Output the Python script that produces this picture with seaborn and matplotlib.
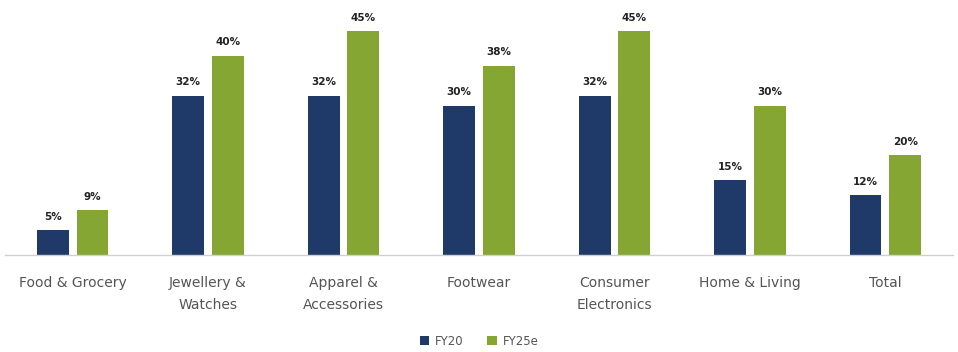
import matplotlib
matplotlib.use("Agg")
import matplotlib.pyplot as plt
import seaborn as sns
import pandas as pd

categories = ["Food & Grocery", "Jewellery &\nWatches", "Apparel &\nAccessories", "Footwear",
              "Consumer\nElectronics", "Home & Living", "Total"]
fy20 = [5, 32, 32, 30, 32, 15, 12]
fy25e = [9, 40, 45, 38, 45, 30, 20]
series_names = ["FY20", "FY25e"]
colors = ["#1f3a68", "#86a634"]

df = pd.DataFrame({
    "category": categories * 2,
    "series": [series_names[0]] * len(categories) + [series_names[1]] * len(categories),
    "value": fy20 + fy25e,
})

sns.set_theme(style="white")
plt.rcParams["font.family"] = ["DejaVu Sans"]

fig = plt.figure(figsize=(9.58, 3.52), dpi=100)
ax = fig.add_axes([0.005, 0.276, 0.99, 0.724])

sns.barplot(data=df, x="category", y="value", hue="series", palette=colors,
            width=0.586, gap=0.2, ax=ax, legend=True, saturation=1, linewidth=0)

for container in ax.containers:
    ax.bar_label(container, labels=[f"{v:.0f}%" for v in container.datavalues],
                 padding=6, fontsize=7.5, fontweight="bold", color="#222222")

ax.set_ylim(0, 51.2)
ax.set_xlim(-0.5, len(categories) - 0.5)
ax.set_xlabel("")
ax.set_ylabel("")
ax.set_yticks([])
ax.tick_params(axis="x", length=0, pad=15, labelsize=10, labelcolor="#555555")
for lbl in ax.get_xticklabels():
    lbl.set_linespacing(1.75)
    lbl.set_verticalalignment("top")
for s in ["top", "right", "left"]:
    ax.spines[s].set_visible(False)
ax.spines["bottom"].set_color("#d0d0d0")
ax.spines["bottom"].set_linewidth(1)

handles, labels = ax.get_legend_handles_labels()
ax.get_legend().remove()
fig.legend(handles, labels, loc="center", bbox_to_anchor=(0.5, 0.03), ncol=2,
           frameon=False, fontsize=8.5, labelcolor="#555555",
           handlelength=0.8, handleheight=0.8, handletextpad=0.5, columnspacing=2.0)

fig.savefig("out.png", dpi=100, facecolor="white")
